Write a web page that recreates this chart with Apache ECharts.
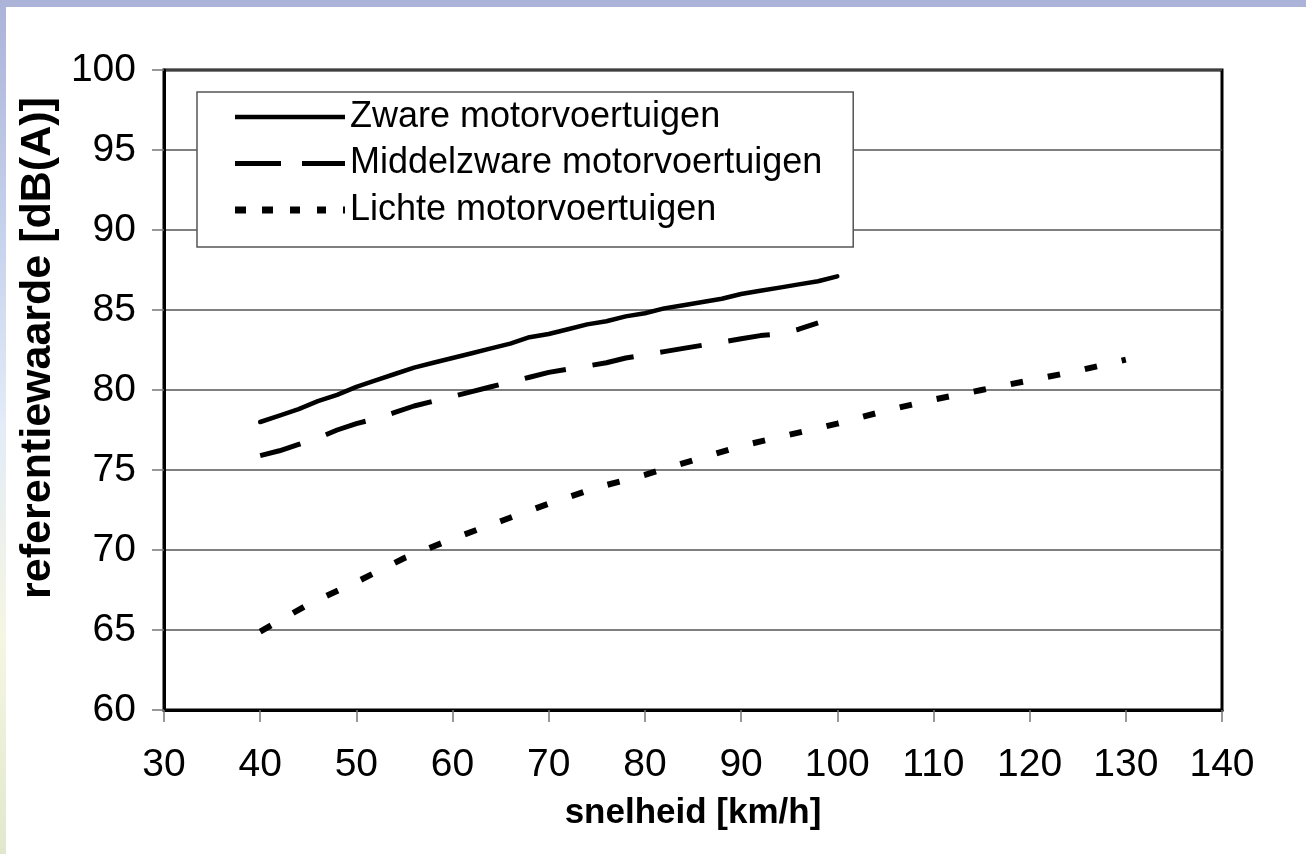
<!DOCTYPE html>
<html>
<head>
<meta charset="utf-8">
<script src="https://cdn.jsdelivr.net/npm/echarts@6/dist/echarts.min.js"></script>
<style>
  html, body { margin: 0; padding: 0; background: #fff; }
  #main { width: 1306px; height: 854px; }
</style>
</head>
<body>
<div id="main"></div>
<script>
// snelheid [km/h] en referentiewaarde [dB(A)]
const zwaarSpeed = [40, 42, 44, 46, 48, 50, 52, 54, 56, 58, 60, 62, 64, 66, 68, 70, 72, 74, 76, 78, 80, 82, 84, 86, 88, 90, 92, 94, 96, 98, 100];
const zwaarValues = [78.0, 78.4, 78.8, 79.3, 79.7, 80.2, 80.6, 81.0, 81.4, 81.7, 82.0, 82.3, 82.6, 82.9, 83.3, 83.5, 83.8, 84.1, 84.3, 84.6, 84.8, 85.1, 85.3, 85.5, 85.7, 86.0, 86.2, 86.4, 86.6, 86.8, 87.1];

const middelSpeed = [40, 42, 44, 46, 48, 50, 52, 54, 56, 58, 60, 62, 64, 66, 68, 70, 72, 74, 76, 78, 80, 82, 84, 86, 88, 90, 92, 94, 96, 98];
const middelValues = [75.9, 76.2, 76.6, 77.0, 77.5, 77.9, 78.2, 78.6, 79.0, 79.3, 79.6, 79.9, 80.2, 80.5, 80.8, 81.1, 81.3, 81.5, 81.7, 82.0, 82.2, 82.4, 82.6, 82.8, 83.0, 83.2, 83.4, 83.5, 83.8, 84.2];

const lichtSpeed = [40, 45, 50, 55, 60, 65, 70, 75, 80, 85, 90, 95, 100, 105, 110, 115, 120, 125, 130];
const lichtValues = [64.9, 66.6, 68.0, 69.5, 70.7, 71.8, 72.9, 73.9, 74.7, 75.6, 76.5, 77.2, 77.9, 78.7, 79.4, 80.0, 80.6, 81.2, 81.9];

const seriesNames = ["Zware motorvoertuigen", "Middelzware motorvoertuigen", "Lichte motorvoertuigen"];

const pairs = (xs, ys) => xs.map((x, i) => [x, ys[i]]);

// legenda-iconen als streepjes (lijn, lang streep, kort streep)
const legendIcons = [
  "path://M0,0L110,0L110,4.5L0,4.5Z",
  "path://M0,0L46,0L46,5L0,5Z M67,0L110,0L110,5L67,5Z",
  "path://M0,0L11,0L11,7L0,7Z M27,0L38,0L38,7L27,7Z M55,0L65,0L65,7L55,7Z M82,0L91,0L91,7L82,7Z M108,0L110,0L110,7L108,7Z",
];

const myChart = echarts.init(document.getElementById("main"));

const font = "Liberation Sans, Arial, sans-serif";

const option = {
  animation: false,
  backgroundColor: "#ffffff",
  graphic: [
    {
      type: "rect",
      shape: { x: 0, y: 0, width: 1306, height: 7 },
      style: { fill: "#abb3d8" },
      silent: true,
    },
    {
      type: "rect",
      shape: { x: 0, y: 0, width: 6, height: 854 },
      style: {
        fill: new echarts.graphic.LinearGradient(0, 0, 0, 1, [
          { offset: 0, color: "#abb3d8" },
          { offset: 0.3, color: "#c9d5ee" },
          { offset: 0.5, color: "#e3ecf7" },
          { offset: 0.75, color: "#f6f6e2" },
          { offset: 1, color: "#dfe8cc" },
        ]),
      },
      silent: true,
    },
  ],
  grid: {
    left: 164,
    right: 84,
    top: 70,
    bottom: 144,
    show: true,
    borderColor: "#000",
    borderWidth: 3,
    backgroundColor: "#fff",
  },
  legend: {
    orient: "vertical",
    left: 197,
    top: 92,
    padding: [7, 31, 19, 38],
    itemWidth: 110,
    itemHeight: 30,
    itemGap: 10.5,
    backgroundColor: "#fff",
    borderColor: "#555",
    borderWidth: 1.5,
    borderRadius: 0,
    textStyle: { fontFamily: font, fontSize: 36, color: "#000" },
    data: seriesNames.map((name, i) => ({ name: name, icon: legendIcons[i] })),
  },
  xAxis: {
    type: "value",
    min: 30,
    max: 140,
    interval: 10,
    name: "snelheid [km/h]",
    nameLocation: "middle",
    nameGap: 86,
    nameTextStyle: { fontFamily: font, fontSize: 35, fontWeight: "bold", color: "#000" },
    axisLine: { show: true, onZero: false, lineStyle: { color: "#000", width: 3 } },
    axisTick: { show: true, length: 12, lineStyle: { color: "#777", width: 1.5 } },
    axisLabel: { margin: 36, fontFamily: font, fontSize: 39, color: "#000" },
    splitLine: { show: false },
  },
  yAxis: {
    type: "value",
    min: 60,
    max: 100,
    interval: 5,
    name: "referentiewaarde [dB(A)]",
    nameLocation: "middle",
    nameGap: 104,
    nameTextStyle: { fontFamily: font, fontSize: 43, fontWeight: "bold", color: "#000", padding: [0, 0, 0, 84] },
    axisLine: { show: true, onZero: false, lineStyle: { color: "#000", width: 3 } },
    axisTick: { show: true, length: 12, lineStyle: { color: "#777", width: 1.5 } },
    axisLabel: { margin: 28, fontFamily: font, fontSize: 39, color: "#000" },
    splitLine: { show: true, lineStyle: { color: "#555", width: 1.5 } },
  },
  series: [
    {
      name: seriesNames[0],
      type: "line",
      data: pairs(zwaarSpeed, zwaarValues),
      showSymbol: false,
      symbol: "none",
      lineStyle: { color: "#000", width: 4.5, type: "solid", cap: "round" },
      itemStyle: { color: "#000" },
    },
    {
      name: seriesNames[1],
      type: "line",
      data: pairs(middelSpeed, middelValues),
      showSymbol: false,
      symbol: "none",
      lineStyle: { color: "#000", width: 5, type: [42, 27], cap: "butt" },
      itemStyle: { color: "#000" },
    },
    {
      name: seriesNames[2],
      type: "line",
      data: pairs(lichtSpeed, lichtValues),
      showSymbol: false,
      symbol: "none",
      lineStyle: { color: "#000", width: 6, type: [12.5, 25.3], cap: "butt" },
      itemStyle: { color: "#000" },
    },
  ],
};

myChart.setOption(option);
</script>
</body>
</html>
